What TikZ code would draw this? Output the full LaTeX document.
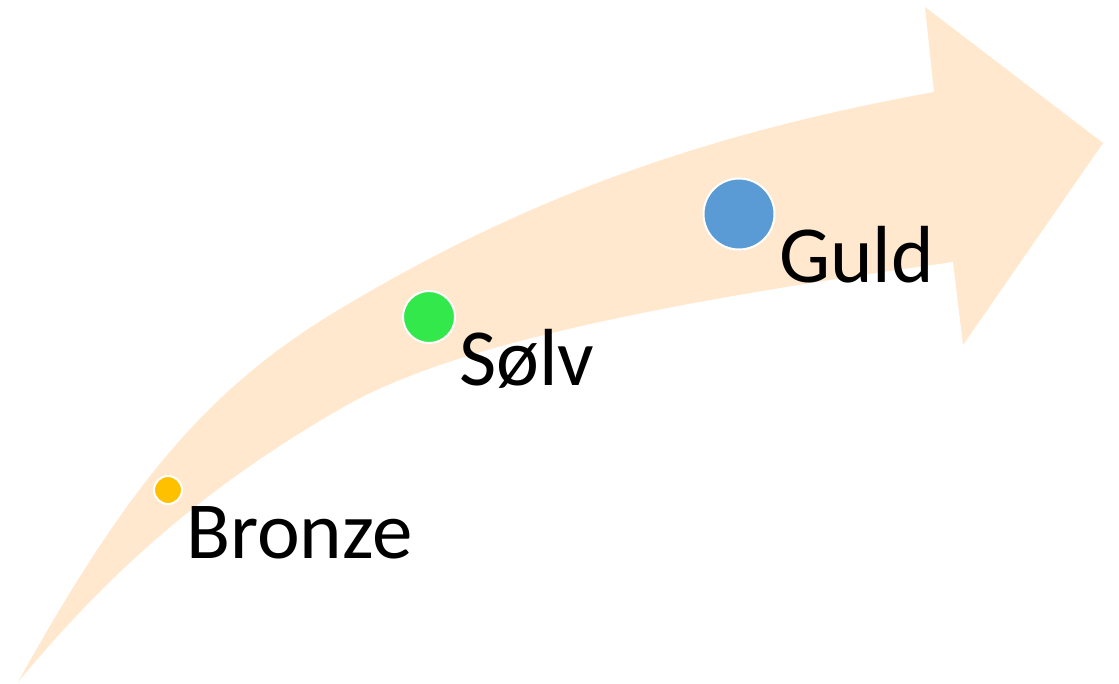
\documentclass[tikz,border=0pt]{standalone}
\usepackage{fontspec}
\setmainfont{Carlito}
\definecolor{arrowfill}{HTML}{FFE8CD}
\definecolor{bronzec}{HTML}{FFC000}
\definecolor{solvc}{HTML}{32E84A}
\definecolor{guldc}{HTML}{5B9BD5}
\begin{document}
\begin{tikzpicture}[x=1pt,y=-1pt,
  dot/.style={circle,draw=white,line width=2pt,inner sep=0pt},
  lbl/.style={anchor=base west,inner sep=0pt,font=\fontsize{81}{92}\selectfont}]
\useasboundingbox (0,0) rectangle (1119,683);
\fill[arrowfill] (18,682)
  .. controls (130.5,479.5) and (211,386) .. (340,309)
  .. controls (523,199) and (702,134) .. (934,92)
  -- (925,7) -- (1103,143) -- (963,345) -- (953,262)
  .. controls (621,308) and (437,352) .. (340,409)
  .. controls (212,483) and (115,565) .. (18,682) -- cycle;
\node[dot,fill=bronzec,minimum size=28pt] (bronze) at (168,490) {};
\node[dot,fill=solvc,minimum size=52pt] (solv) at (429,317) {};
\node[dot,fill=guldc,minimum size=71pt] (guld) at (739,214) {};
\node[lbl] (tbronze) at (186,558) {Bronze};
\node[lbl] (tsolv) at (459,385) {Sølv};
\node[lbl] (tguld) at (779,282) {Guld};
\end{tikzpicture}
\end{document}
